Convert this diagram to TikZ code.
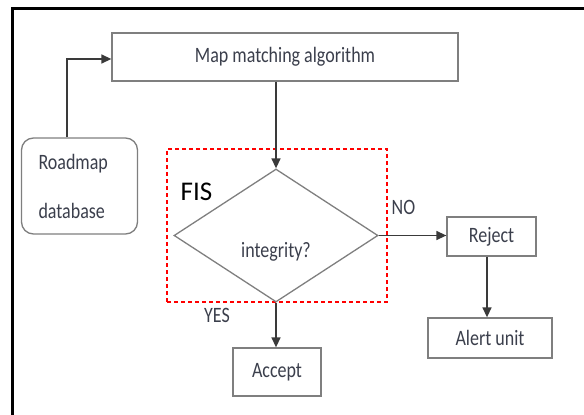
\documentclass[tikz,border=0pt]{standalone}
\usepackage{graphicx}
\usepackage{fontspec}
\setmainfont{Carlito}
\usetikzlibrary{arrows.meta,shapes.geometric}
\definecolor{txt}{HTML}{3B3F4C}
\definecolor{edge}{HTML}{7F7F7F}
\definecolor{wire}{HTML}{3A3A3A}
% slightly tall lettering used for all block texts
\newcommand{\tallText}[1]{\scalebox{1}[1.22]{#1}}
\tikzset{
  box/.style={draw=edge, line width=1.3pt, fill=white, inner sep=0pt,
    text=txt, font=\fontsize{18}{22}\selectfont},
  lbl/.style={text=txt, inner sep=0pt, font=\fontsize{18}{22}\selectfont},
  arr/.style={draw=wire, line width=1.4pt, -{Triangle[length=10pt,width=9pt]}}
}
\begin{document}
\begin{tikzpicture}[x=1pt,y=-1pt]
\useasboundingbox (0,0) rectangle (584,415);
% outer frame (top and left edges only)
\draw[line width=2.7pt, black] (12.5,416) -- (12.5,8.7) -- (585,8.7);

% FIS region
\node[draw=red, dashed, dash pattern=on 4pt off 3pt, line width=1.2pt,
      minimum width=220pt, minimum height=153pt, inner sep=0pt]
      (fisbox) at (277,225.5) {};
\node[inner sep=0pt, font=\fontsize{27}{30}\selectfont, text=black]
      (fis) at (196.5,192) {FIS};

% blocks
\node[box, minimum width=346pt, minimum height=48pt] (map) at (285,57)
      {\tallText{Map matching algorithm}};
\node[box, rounded corners=12pt, minimum width=116pt, minimum height=96pt,
      inner xsep=17pt, text width=82pt, align=left,
      font=\fontsize{18}{49}\selectfont] (road) at (79.5,186)
      {\tallText{Roadmap}\\\tallText{database}};
\node[diamond, draw=edge, line width=1.3pt, inner sep=0pt,
      minimum width=204pt, minimum height=133pt, aspect=1.53] (dia) at (276,235.5) {};
\node[lbl] (q) at (276,252) {\tallText{integrity?}};
\node[box, minimum width=89pt, minimum height=39pt] (rej) at (491.5,236.5) {\tallText{Reject}};
\node[box, minimum width=124pt, minimum height=40pt] (alert) at (490,338) {\tallText{Alert unit}};
\node[box, minimum width=88pt, minimum height=48pt] (acc) at (277,372) {\tallText{Accept}};

% branch labels
\node[lbl] (no) at (403.5,207) {\tallText{NO}};
\node[lbl] (yes) at (217,315) {\tallText{YES}};

% connectors
\draw[arr] ([xshift=-12.5pt]road.north) |- ([yshift=-2pt]map.west);
\draw[arr] (dia.north |- map.south) -- (dia.north);
\draw[arr] (dia.east) -- (rej.west |- dia.east);
\draw[arr] ([xshift=-4.5pt]rej.south) -- ([xshift=-4.5pt]rej.south |- alert.north);
\draw[arr] (dia.south) -- (dia.south |- acc.north);
\end{tikzpicture}
\end{document}
